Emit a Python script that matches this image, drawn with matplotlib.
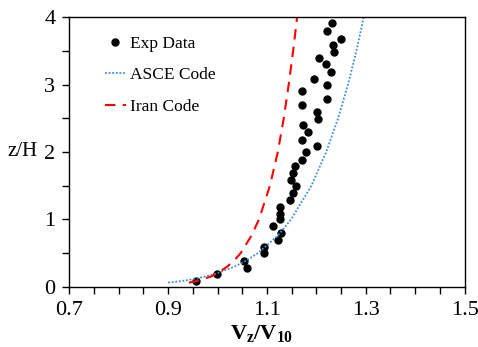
import matplotlib
matplotlib.use("Agg")
import matplotlib.pyplot as plt

plt.rcParams['font.family'] = ['Liberation Serif', 'DejaVu Serif']
plt.rcParams['mathtext.fontset'] = 'custom'
plt.rcParams['mathtext.rm'] = 'Liberation Serif'
plt.rcParams['mathtext.bf'] = 'Liberation Serif:bold'

# measured velocity ratio vs. normalised height
expV = [0.957, 0.999, 1.054, 1.059, 1.093, 1.093, 1.122, 1.129, 1.113, 1.126,
        1.126, 1.126, 1.147, 1.153, 1.158, 1.149, 1.153, 1.157, 1.170, 1.178,
        1.201, 1.171, 1.184, 1.173, 1.203, 1.201, 1.171, 1.222, 1.171, 1.222,
        1.196, 1.229, 1.220, 1.206, 1.236, 1.234, 1.249, 1.222, 1.231]
expZ = [0.080, 0.188, 0.386, 0.277, 0.593, 0.496, 0.693, 0.792, 0.900, 1.000,
        1.079, 1.178, 1.282, 1.386, 1.490, 1.588, 1.691, 1.791, 1.880, 1.994,
        2.088, 2.181, 2.291, 2.395, 2.484, 2.592, 2.691, 2.789, 2.899, 2.988,
        3.077, 3.190, 3.304, 3.398, 3.487, 3.586, 3.680, 3.798, 3.908]

# code profiles
codeZ = [0.06, 0.08, 0.1, 0.15, 0.2, 0.3, 0.4, 0.5, 0.75, 1.0,
         1.5, 2.0, 2.5, 3.0, 3.5, 4.0]
asceV = [0.900, 0.923, 0.941, 0.975, 0.999, 1.035, 1.061, 1.082, 1.121, 1.149,
         1.190, 1.220, 1.244, 1.264, 1.281, 1.296]
iranV = [0.942, 0.955, 0.966, 0.986, 1.000, 1.020, 1.035, 1.047, 1.068, 1.084,
         1.106, 1.122, 1.134, 1.144, 1.153, 1.161]

xTicks = [0.7, 0.9, 1.1, 1.3, 1.5]
yTicks = [0, 1, 2, 3, 4]

fig = plt.figure(figsize=(4.78, 3.47), dpi=100)
ax = fig.add_axes([0.145, 0.1738, 0.827, 0.7769])

ax.plot(expV, expZ, 'o', color='black', markersize=5, label='Exp Data')
ax.plot(asceV, codeZ, linestyle=(0, (1, 1)), color='#3a8fd6', linewidth=1.3, label='ASCE Code')
ax.plot(iranV, codeZ, linestyle=(0, (5, 3.5)), color='#ff0000', linewidth=1.5, label='Iran Code')

ax.set_xlim(0.7, 1.5)
ax.set_ylim(0, 4)
ax.set_xticks(xTicks)
ax.set_yticks(yTicks)
ax.set_xticks([0.75, 0.8, 0.85, 0.95, 1.0, 1.05, 1.15, 1.2, 1.25, 1.35, 1.4, 1.45], minor=True)
ax.set_yticks([0.5, 1.5, 2.5, 3.5], minor=True)
ax.set_xticklabels(['0.7', '0.9', '1.1', '1.3', '1.5'])
ax.tick_params(which='both', direction='out', length=5, width=1, labelsize=16, pad=5)

for sp in ax.spines.values():
    sp.set_linewidth(1)

ax.set_xlabel(r'$\mathbf{V_z/V_{10}}$', fontsize=16)
ax.xaxis.set_label_coords(0.487, -0.175)
ax.xaxis.label.set_va('center')
ax.set_ylabel('z/H', fontsize=15, rotation=0)
ax.yaxis.set_label_coords(-0.118, 0.5)
ax.yaxis.label.set_va('center')
ax.yaxis.label.set_ha('center')

ax.legend(loc='upper left', bbox_to_anchor=(0.05, 0.99), frameon=False, fontsize=12.5,
          numpoints=1, handlelength=1.2, handletextpad=0.25, labelspacing=0.9)

plt.savefig('out.png', dpi=100)
